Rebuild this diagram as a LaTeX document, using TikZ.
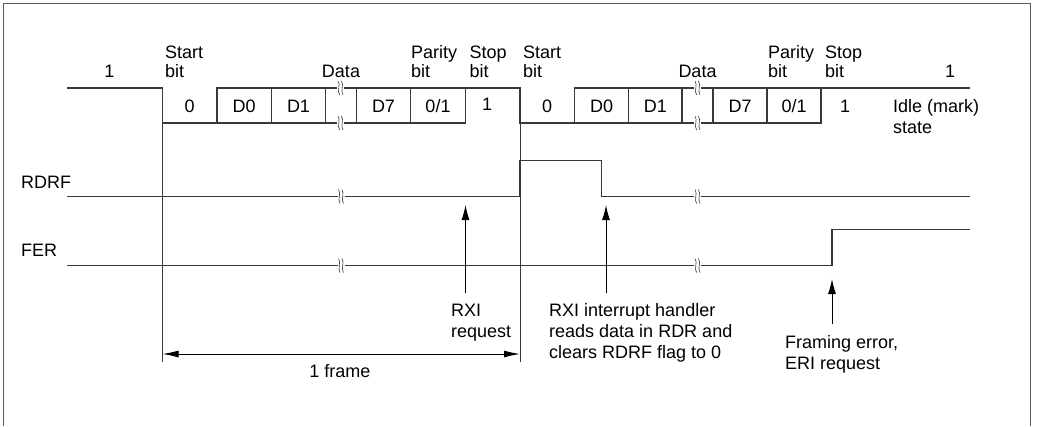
\documentclass[tikz,border=0pt]{standalone}
\usepackage{fontspec}
\setmainfont{Liberation Sans}
\usetikzlibrary{arrows.meta}
\begin{document}
\begin{tikzpicture}[x=1pt,y=-1pt,
  sig/.style={line width=1.3pt, draw=black!78},
  frm/.style={line width=1.3pt, draw=black!65},
  arr/.style={line width=1pt, draw=black, -{Latex[length=15pt,width=8pt]}},
  dim/.style={line width=1pt, draw=black, {Latex[length=16pt,width=7pt]}-{Latex[length=16pt,width=7pt]}},
  txt/.style={font=\fontsize{18}{21}\selectfont, inner sep=0pt, anchor=base west},
  ctxt/.style={txt, anchor=base},
  brk/.pic={
    \fill[white] (-3.5,-5) rectangle (3.5,5);
    \foreach \dx in {-1.7,1.7}
      \draw[line width=0.6pt, black!80] ({\dx-0.8},-7) .. controls ({\dx+2.2},-3) and ({\dx-2.2},3) .. ({\dx+0.8},7);
  }]
\useasboundingbox (0,0) rectangle (1064,426);
% outer frame
\draw[frm] (3.5,426) -- (3.5,3.5) -- (1030.5,3.5) -- (1030.5,426);

% ---------- serial data line ----------
\coordinate (idle0) at (67,88);
\coordinate (s1) at (162.5,88);
\coordinate (s2) at (520,88);
% frame 1
\draw[sig] (idle0) -- (s1) -- (162.5,123) -- (465.5,123);
\draw[sig] (217,123) -- (217,88) -- (s2) -- (520,123) -- (821,123) -- (821,88);
\foreach \x in {271.5,325.5,356.5,410.5,465.5}
  \draw[sig] (\x,88) -- (\x,123);
% frame 2
\draw[sig] (574.5,123) -- (574.5,88) -- (969.5,88);
\foreach \x in {628.5,682,713,767}
  \draw[sig] (\x,88) -- (\x,123);
\pic at (340.5,88) {brk};
\pic at (340.5,123) {brk};
\pic at (697.5,88) {brk};
\pic at (697.5,123) {brk};

% frame guide lines
\draw[sig, line width=1pt] (162.5,123) -- (162.5,362);
\draw[sig, line width=1pt] (520,123) -- (520,362);

% ---------- RDRF ----------
\draw[sig] (67,196.5) -- (520,196.5) -- (520,160.5) -- (601.5,160.5) -- (601.5,196.5) -- (969.5,196.5);
\pic at (341,196.5) {brk};
\pic at (697.5,196.5) {brk};

% ---------- FER ----------
\draw[sig] (67,265.5) -- (832,265.5) -- (832,229.5) -- (969.5,229.5);
\pic at (341,265.5) {brk};
\pic at (697.5,265.5) {brk};

% ---------- top labels ----------
\node[ctxt] (one1) at (109.5,77) {1};
\node[txt] (st1a) at (165,58) {Start};
\node[txt] (st1b) at (165,77) {bit};
\node[ctxt] (da1) at (341,77) {Data};
\node[txt] (pa1a) at (411,58) {Parity};
\node[txt] (pa1b) at (411,77) {bit};
\node[txt] (sp1a) at (469.5,58) {Stop};
\node[txt] (sp1b) at (469.5,77) {bit};
\node[txt] (st2a) at (523,58) {Start};
\node[txt] (st2b) at (523,77) {bit};
\node[ctxt] (da2) at (697.5,77) {Data};
\node[txt] (pa2a) at (768,58) {Parity};
\node[txt] (pa2b) at (768,77) {bit};
\node[txt] (sp2a) at (825,58) {Stop};
\node[txt] (sp2b) at (825,77) {bit};
\node[ctxt] (one2) at (950,77) {1};

% ---------- bit values ----------
\node[ctxt] (b0) at (189.7,112) {0};
\node[ctxt] (b1) at (244.2,112) {D0};
\node[ctxt] (b2) at (298.5,112) {D1};
\node[ctxt] (b3) at (383.5,112) {D7};
\node[ctxt] (b4) at (438,112) {0/1};
\node[ctxt] (b5) at (487,110) {1};
\node[ctxt] (c0) at (547.2,112) {0};
\node[ctxt] (c1) at (601.5,112) {D0};
\node[ctxt] (c2) at (655.3,112) {D1};
\node[ctxt] (c3) at (740,112) {D7};
\node[ctxt] (c4) at (794,112) {0/1};
\node[ctxt] (c5) at (845,112) {1};
\node[txt] (idle1) at (893,112) {Idle (mark)};
\node[txt] (idle2) at (893,133) {state};

% ---------- signal names ----------
\node[txt] (rdrf) at (21,188) {RDRF};
\node[txt] (fer) at (21,256) {FER};

% ---------- annotations ----------
\coordinate (a1s) at (465.5,293);
\coordinate (a1e) at (465.5,205);
\draw[arr] (a1s) -- (a1e);
\node[txt] (rxi1) at (451,316) {RXI};
\node[txt] (rxi2) at (451,337) {request};

\coordinate (a2s) at (606,293);
\coordinate (a2e) at (606,205);
\draw[arr] (a2s) -- (a2e);
\node[txt] (h1) at (549,316) {RXI interrupt handler};
\node[txt] (h2) at (549,337) {reads data in RDR and};
\node[txt] (h3) at (549,358) {clears RDRF flag to 0};

\coordinate (a3s) at (832,324);
\coordinate (a3e) at (832,279);
\draw[arr] (a3s) -- (a3e);
\node[txt] (fe1) at (785,348) {Framing error,};
\node[txt] (fe2) at (785,369) {ERI request};

\coordinate (f1) at (162.5,354);
\coordinate (f2) at (520,354);
\draw[dim] (f1) -- (f2);
\node[ctxt] (fr) at (340,377) {1 frame};
\end{tikzpicture}
\end{document}
